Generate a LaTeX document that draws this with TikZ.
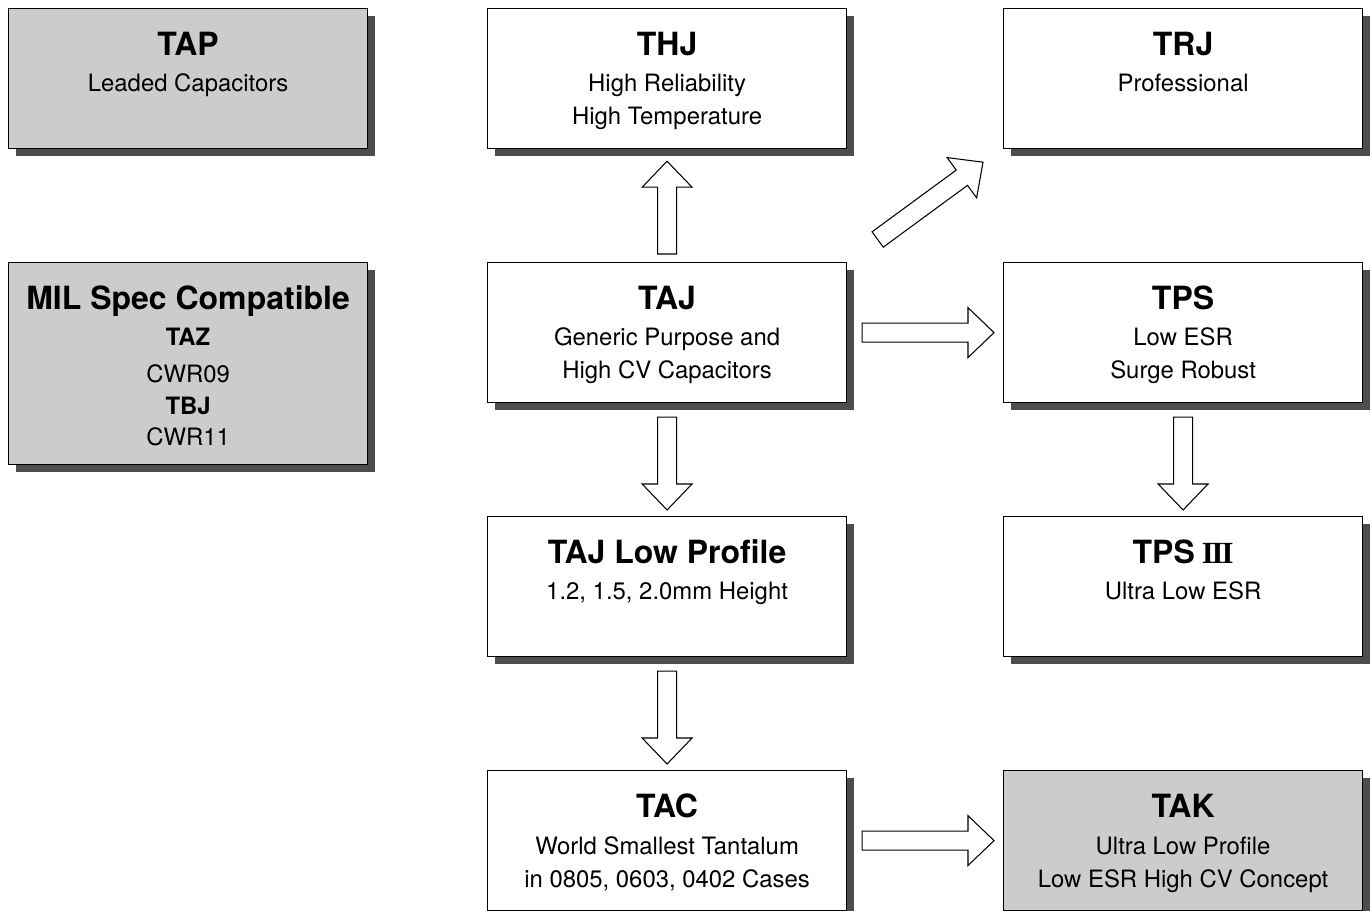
\documentclass[tikz,border=0pt]{standalone}
\usepackage{fontspec}
\setmainfont{TeX Gyre Heros}
\newfontfamily\romfont{Liberation Serif}
\usetikzlibrary{calc,shadows}
\definecolor{boxgray}{HTML}{CCCCCC}
\definecolor{shadowgray}{HTML}{4D4D4D}
\newcommand\hw{5.4pt}
\newcommand\hh{14.2pt}
\newcommand\hl{14.8pt}
\newcommand\blockarr[2]{%
  \draw[blockarrow] let \p1=(#1), \p2=(#2),
    \n1={atan2(\y2-\y1,\x2-\x1)}, \n2={veclen(\x2-\x1,\y2-\y1)} in
    ($(\p1)+(\n1+90:\hw)$)
    -- ($(\p1)+(\n1:\n2-\hl)+(\n1+90:\hw)$)
    -- ($(\p1)+(\n1:\n2-\hl)+(\n1+90:\hh)$)
    -- (\p2)
    -- ($(\p1)+(\n1:\n2-\hl)+(\n1-90:\hh)$)
    -- ($(\p1)+(\n1:\n2-\hl)+(\n1-90:\hw)$)
    -- ($(\p1)+(\n1-90:\hw)$) -- cycle;}
\newcommand\romthree{{\romfont\fontsize{17.5}{20}\selectfont\bfseries I\kern-0.07em I\kern-0.07em I}}
\begin{document}
\begin{tikzpicture}[x=0.02cm,y=-0.02cm,
  box/.style={draw=black, line width=0.7pt, fill=white, anchor=north west,
    minimum width=7.18cm, minimum height=2.8cm, inner sep=0pt,
    drop shadow={shadow xshift=4.2pt, shadow yshift=-4.4pt, fill=shadowgray, opacity=1}},
  graybox/.style={box, fill=boxgray},
  ttl/.style={anchor=base, inner sep=0pt, font=\fontsize{18.2}{22}\selectfont\bfseries},
  txt/.style={anchor=base, inner sep=0pt, font=\fontsize{13.6}{16}\selectfont},
  btxt/.style={anchor=base, inner sep=0pt, font=\fontsize{13.6}{16}\selectfont\bfseries},
  blockarrow/.style={draw=black, line width=0.6pt, fill=white, line join=miter}]
\useasboundingbox (0,0) rectangle (1372,911);

% boxes
\node[graybox] (tap) at (8,8) {};
\node[graybox, minimum height=4.04cm] (mil) at (8,262) {};
\node[box] (thj) at (487,8) {};
\node[box] (taj) at (487,262) {};
\node[box] (tajlp) at (487,516) {};
\node[box] (tac) at (487,770) {};
\node[box] (trj) at (1003,8) {};
\node[box] (tps) at (1003,262) {};
\node[box] (tps3) at (1003,516) {};
\node[graybox] (tak) at (1003,770) {};

% texts
\node[ttl] (tap-t) at ([shift={(0,47.5)}]tap.north) {TAP};
\node[txt] (tap-1) at ([shift={(0,84)}]tap.north) {Leaded Capacitors};

\node[ttl] (mil-t) at ([shift={(0,47.5)}]mil.north) {MIL Spec Compatible};
\node[btxt] (mil-1) at ([shift={(0,84)}]mil.north) {TAZ};
\node[txt] (mil-2) at ([shift={(0,121)}]mil.north) {CWR09};
\node[btxt] (mil-3) at ([shift={(0,153)}]mil.north) {TBJ};
\node[txt] (mil-4) at ([shift={(0,184)}]mil.north) {CWR11};

\node[ttl] (thj-t) at ([shift={(0,47.5)}]thj.north) {THJ};
\node[txt] (thj-1) at ([shift={(0,84)}]thj.north) {High Reliability};
\node[txt] (thj-2) at ([shift={(0,117)}]thj.north) {High Temperature};

\node[ttl] (taj-t) at ([shift={(0,47.5)}]taj.north) {TAJ};
\node[txt] (taj-1) at ([shift={(0,84)}]taj.north) {Generic Purpose and};
\node[txt] (taj-2) at ([shift={(0,117)}]taj.north) {High CV Capacitors};

\node[ttl] (tajlp-t) at ([shift={(0,47.5)}]tajlp.north) {TAJ Low Profile};
\node[txt] (tajlp-1) at ([shift={(0,84)}]tajlp.north) {1.2, 1.5, 2.0mm Height};

\node[ttl] (tac-t) at ([shift={(0,47.5)}]tac.north) {TAC};
\node[txt] (tac-1) at ([shift={(0,84)}]tac.north) {World Smallest Tantalum};
\node[txt] (tac-2) at ([shift={(0,117)}]tac.north) {in 0805, 0603, 0402 Cases};

\node[ttl] (trj-t) at ([shift={(0,47.5)}]trj.north) {TRJ};
\node[txt] (trj-1) at ([shift={(0,84)}]trj.north) {Professional};

\node[ttl] (tps-t) at ([shift={(0,47.5)}]tps.north) {TPS};
\node[txt] (tps-1) at ([shift={(0,84)}]tps.north) {Low ESR};
\node[txt] (tps-2) at ([shift={(0,117)}]tps.north) {Surge Robust};

\node[ttl] (tps3-t) at ([shift={(0,47.5)}]tps3.north) {TPS\kern0.22em\romthree};
\node[txt] (tps3-1) at ([shift={(0,84)}]tps3.north) {Ultra Low ESR};

\node[ttl] (tak-t) at ([shift={(0,47.5)}]tak.north) {TAK};
\node[txt] (tak-1) at ([shift={(0,84)}]tak.north) {Ultra Low Profile};
\node[txt] (tak-2) at ([shift={(0,117)}]tak.north) {Low ESR High CV Concept};

% block arrows
\blockarr{[shift={(0,-8)}]taj.north}{[shift={(0,12)}]thj.south}
\blockarr{[shift={(30.5,-22.5)}]taj.north east}{[shift={(-20,13)}]trj.south west}
\blockarr{[shift={(15,0)}]taj.east}{[shift={(-9,0)}]tps.west}
\blockarr{[shift={(0,14)}]taj.south}{[shift={(0,-6)}]tajlp.north}
\blockarr{[shift={(0,14)}]tps.south}{[shift={(0,-6)}]tps3.north}
\blockarr{[shift={(0,14)}]tajlp.south}{[shift={(0,-6)}]tac.north}
\blockarr{[shift={(15,0)}]tac.east}{[shift={(-9,0)}]tak.west}
\end{tikzpicture}
\end{document}
